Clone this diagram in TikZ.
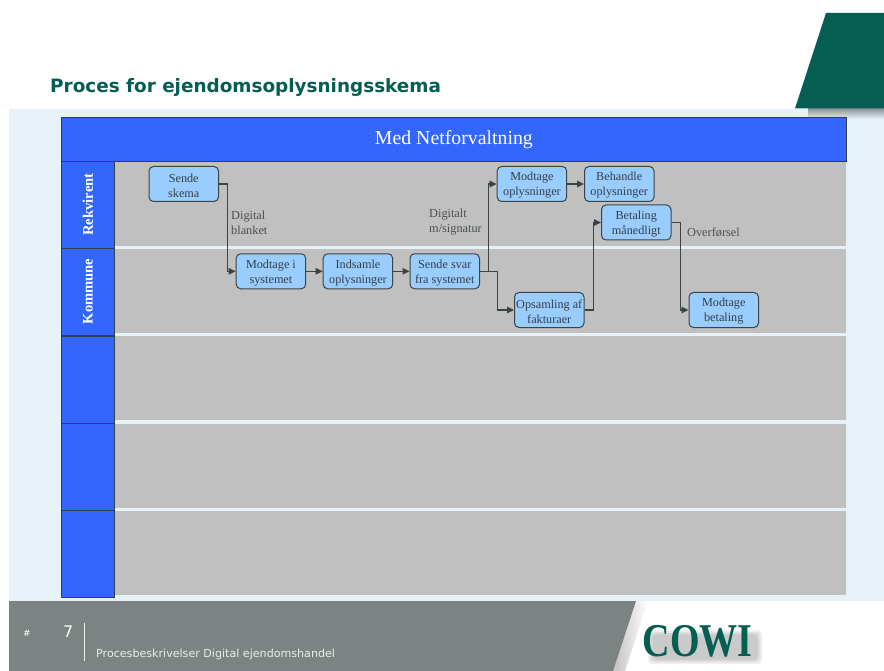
\documentclass[tikz,border=0pt]{standalone}
\usepackage{fontspec}
\setmainfont{Liberation Serif}
\newfontfamily\versans{DejaVu Sans}
\usetikzlibrary{arrows.meta,calc}
\definecolor{panelc}{HTML}{E6F1F8}
\definecolor{bluec}{HTML}{3366FF}
\definecolor{greyc}{HTML}{C0C0C0}
\definecolor{boxc}{HTML}{99CCFF}
\definecolor{inkc}{HTML}{333F48}
\definecolor{linec}{HTML}{3A4442}
\definecolor{greenc}{HTML}{045E52}
\definecolor{footc}{HTML}{7B8482}
\definecolor{labelc}{HTML}{4A4F52}
\newcommand{\boxdrop}{\rule{0pt}{11.5pt}}
\tikzset{
  x=1pt,y=-1pt,
  band/.style={fill=bluec,draw=inkc,line width=0.8pt,minimum width=53pt,minimum height=87pt,inner sep=0pt,anchor=north west},
  lane/.style={fill=greyc,draw=none,minimum width=732pt,minimum height=84pt,inner sep=0pt,anchor=north west},
  lanetext/.style={text=white,font=\fontsize{14.6}{16}\selectfont\bfseries,rotate=90},
  procbox/.style={fill=boxc,draw=linec,line width=1pt,rounded corners=4.5pt,minimum width=69.5pt,minimum height=35pt,inner sep=0pt,align=center,text=inkc,font=\fontsize{12.2}{15}\selectfont,anchor=north west},
  flow/.style={draw=linec,line width=1.1pt,-{Triangle[length=7pt,width=6.5pt]}},
  note/.style={text=labelc,align=left,inner sep=0pt,anchor=north west,font=\fontsize{12.3}{15}\selectfont},
}
\begin{document}
\begin{tikzpicture}
\useasboundingbox (0,0) rectangle (884,671);
\fill[white] (0,0) rectangle (884,671);
% panel
\fill[panelc] (9,109) rectangle (884,601);
% green block with soft shadow
\shade[top color=black!40!panelc,bottom color=panelc] (808,108) rectangle (884,119);
\fill[greenc] (826,13) -- (884,13) -- (884,108.5) -- (795,108.5) -- cycle;
% title
\node[anchor=base west,inner sep=0pt,text=greenc] (title) at (50,92.5) {\versans\fontsize{18.4}{20}\selectfont\bfseries Proces for ejendomsoplysningsskema};
% header
\node[fill=bluec,draw=inkc,line width=0.8pt,minimum width=785pt,minimum height=44pt,inner sep=0pt,anchor=north west,text=white,font=\fontsize{19.8}{22}\selectfont] (head) at (61,117) {Med Netforvaltning};
% lanes
\node[lane] (l1) at (114,161.5) {};
\node[lane] (l2) at (114,249) {};
\node[lane] (l3) at (114,336) {};
\node[lane] (l4) at (114,423.5) {};
\node[lane] (l5) at (114,511) {};
\node[band] (b1) at (61,161) {};
\node[band] (b2) at (61,248) {};
\node[band] (b3) at (61,335.5) {};
\node[band] (b4) at (61,422.5) {};
\node[band] (b5) at (61,510) {};
\node[lanetext] (t1) at (88,204.5) {Rekvirent};
\node[lanetext] (t2) at (88,291.5) {Kommune};
% notes
\node[note] (n1) at (231,210.5) {Digital\\blanket};
\node[note] (n2) at (429,209) {Digitalt\\m/signatur};
\node[note] (n3) at (687,228) {Overførsel};
% process boxes
\node[procbox] (a) at (148.5,166) {\boxdrop Sende\\skema};
\node[procbox] (b) at (235.7,253.3) {\boxdrop Modtage i\\systemet};
\node[procbox] (c) at (322.7,253.3) {\boxdrop Indsamle\\oplysninger};
\node[procbox] (d) at (409.5,253.3) {\boxdrop Sende svar\\fra systemet};
\node[procbox] (e) at (496.7,166) {\boxdrop Modtage\\oplysninger};
\node[procbox] (f) at (584,166) {\boxdrop Behandle\\oplysninger};
\node[procbox] (g) at (601,204.5) {\boxdrop Betaling\\månedligt};
\node[procbox] (h) at (514,292) {\boxdrop Opsamling af\\fakturaer};
\node[procbox] (i) at (688.5,292) {\boxdrop Modtage\\betaling};
% connectors
\draw[flow] (a.east) -- ++(8.7,0) |- (b.west);
\draw[flow] (b) -- (c);
\draw[flow] (c) -- (d);
\draw[flow] (d.east) -- ++(8.7,0) |- (e.west);
\draw[flow] (d.east) -- ++(17.5,0) |- (h.west);
\draw[flow] (e) -- (f);
\draw[flow] (h.east) -- ++(8.7,0) |- (g.west);
\draw[flow] (g.east) -- ++(8.7,0) |- (i.west);
% footer
\shade[left color=black!28,right color=white] (630,601) -- (648,601) -- (625,671) -- (607,671) -- cycle;
\fill[footc] (9,601) -- (636,601) -- (613,671) -- (9,671) -- cycle;
\node[anchor=base west,inner sep=0pt,text=white,font=\versans\fontsize{9}{10}\selectfont] (hash) at (23,636) {\#};
\node[anchor=base west,inner sep=0pt,text=white,font=\versans\fontsize{16}{18}\selectfont] (num) at (63,637) {7};
\coordinate (r1) at (84.5,622.5);
\coordinate (r2) at (84.5,661);
\draw[white!85!footc,line width=0.7pt] (r1) -- (r2);
\node[anchor=base west,inner sep=0pt,text=white!85!footc,font=\versans\fontsize{11.1}{12}\selectfont] (foot) at (96,657.5) {Procesbeskrivelser Digital ejendomshandel};
% logo shadow (soft grey smear) and logo
\foreach \g in {0,1.5,3,4.5}{
  \fill[black,opacity=0.055,rounded corners=4pt] (648+\g,630+\g) rectangle (762-\g,664-\g);
}
\node[anchor=base west,inner sep=0pt,text=greenc,font=\fontsize{47}{50}\selectfont\bfseries] (cowi) at (642.5,656) {\scalebox{0.81}[1]{COWI}};
\end{tikzpicture}
\end{document}
